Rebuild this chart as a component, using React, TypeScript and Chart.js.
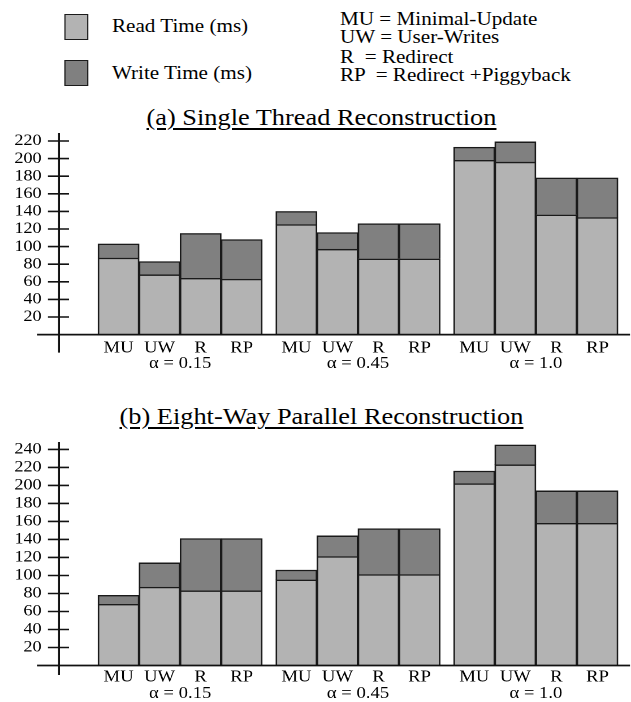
import React, { useEffect, useRef } from "react";
import { Chart, registerables } from "chart.js";

Chart.register(...registerables);

// ---------- data ----------
const methods = ["MU", "UW", "R", "RP"];
const alphaLabels = ["α = 0.15", "α = 0.45", "α = 1.0"];

const singleRead = [87, 68, 64, 63, 125, 97, 86, 86, 198, 196, 136, 133];
const singleWrite = [16, 15, 51, 45, 15, 19, 40, 40, 15, 23, 42, 45];

const parallelRead = [68, 87, 83, 83, 95, 121, 101, 101, 202, 223, 158, 158];
const parallelWrite = [10, 27, 58, 58, 11, 23, 51, 51, 14, 22, 36, 36];

const singleYTicks = [20, 40, 60, 80, 100, 120, 140, 160, 180, 200, 220];
const parallelYTicks = [20, 40, 60, 80, 100, 120, 140, 160, 180, 200, 220, 240];

const legendItems = ["Read Time (ms)", "Write Time (ms)"];
const abbreviations = [
  "MU = Minimal-Update",
  "UW = User-Writes",
  "R  = Redirect",
  "RP  = Redirect +Piggyback",
];
const titles = ["(a) Single Thread Reconstruction", "(b) Eight-Way Parallel Reconstruction"];

// ---------- layout helpers ----------
const STRETCH = 631 / 558;
const READ_COLOR = "#b3b3b3";
const WRITE_COLOR = "#808080";
const EDGE = "#1a1a1a";
const FONT = "'Liberation Serif', 'Times New Roman', serif";
const XFONT = 16.5;

// slot geometry: each bar is 3 units wide, 1 unit gap between groups
const barX = (i: number) => Math.floor(i / 4) * 13 + (i % 4) * 3 + 1.5;
const groupX = (g: number) => g * 13 + 6;
const X_MIN = -2.85;
const X_MAX = 38.88;

const crossAxes = {
  id: "crossAxes",
  afterDatasetsDraw(chart: any, _args: any, opts: any) {
    const { ctx, chartArea } = chart;
    const y = chart.scales.y;
    const x0 = chartArea.left;
    const base = y.getPixelForValue(0);
    ctx.save();
    ctx.strokeStyle = "#111";
    ctx.lineCap = "butt";
    ctx.lineWidth = 1.8;
    ctx.beginPath();
    ctx.moveTo(x0 - opts.xLeft, base);
    ctx.lineTo(chartArea.right, base);
    ctx.stroke();
    ctx.lineWidth = 1.6;
    ctx.beginPath();
    ctx.moveTo(x0, chartArea.top);
    ctx.lineTo(x0, base + opts.yExt);
    ctx.stroke();
    ctx.lineWidth = 1.6;
    for (const t of y.ticks) {
      const py = y.getPixelForValue(t.value);
      ctx.beginPath();
      ctx.moveTo(x0 - opts.tickLeft, py);
      ctx.lineTo(x0 + opts.tickRight, py);
      ctx.stroke();
    }
    ctx.restore();
  },
};

type Cfg = {
  read: number[];
  write: number[];
  yMax: number;
  yTicks: number[];
  padBottom: number;
  xPad: number;
  x2Pad: number;
  yExt: number;
};

function makeChart(canvas: HTMLCanvasElement, cfg: Cfg) {
  const barDs = (label: string, vals: number[], color: string) => ({
    label,
    data: vals.map((v, i) => ({ x: barX(i), y: v })),
    backgroundColor: color,
    borderColor: EDGE,
    borderWidth: 1.4,
    barPercentage: 1,
    categoryPercentage: 1,
  });
  return new Chart(canvas, {
    type: "bar",
    data: {
      datasets: [
        barDs(legendItems[0], cfg.read, READ_COLOR),
        barDs(legendItems[1], cfg.write, WRITE_COLOR),
      ] as any,
    },
    plugins: [crossAxes as any],
    options: {
      responsive: false,
      devicePixelRatio: 2,
      animation: false,
      layout: { padding: { top: 5, right: 0.9, bottom: cfg.padBottom, left: 0 } },
      plugins: {
        legend: { display: false },
        tooltip: { enabled: false },
        crossAxes: { xLeft: 19.5, yExt: cfg.yExt, tickLeft: 9.8, tickRight: 8.8 },
      } as any,
      scales: {
        x: {
          type: "linear",
          stacked: true,
          offset: false,
          min: X_MIN,
          max: X_MAX,
          weight: 0,
          grid: { display: false, drawTicks: false, offset: false },
          border: { display: false },
          ticks: {
            autoSkip: false,
            maxRotation: 0,
            padding: cfg.xPad,
            color: "#000",
            font: { size: XFONT, family: FONT },
            callback: (_v: any, i: number) => methods[i % 4],
          },
          afterBuildTicks: (s: any) => {
            s.ticks = cfg.read.map((_v, i) => ({ value: barX(i) }));
          },
          afterFit: (s: any) => {
            s.height = 18;
            s.paddingLeft = 0;
            s.paddingRight = 0;
          },
        },
        x2: {
          type: "linear",
          position: "bottom",
          offset: false,
          min: X_MIN,
          max: X_MAX,
          weight: 1,
          grid: { display: false, drawTicks: false, offset: false },
          border: { display: false },
          ticks: {
            autoSkip: false,
            maxRotation: 0,
            padding: cfg.x2Pad,
            color: "#000",
            font: { size: XFONT, family: FONT },
            callback: (_v: any, i: number) => alphaLabels[i],
          },
          afterBuildTicks: (s: any) => {
            s.ticks = alphaLabels.map((_l, g) => ({ value: groupX(g) }));
          },
          afterFit: (s: any) => {
            s.height = 18;
            s.paddingLeft = 0;
            s.paddingRight = 0;
          },
        },
        y: {
          stacked: true,
          min: 0,
          max: cfg.yMax,
          grid: { display: false, drawTicks: false },
          border: { display: false },
          ticks: {
            autoSkip: false,
            padding: 15.5,
            color: "#000",
            font: { size: 16, family: FONT },
          },
          afterBuildTicks: (s: any) => {
            s.ticks = cfg.yTicks.map((v) => ({ value: v }));
          },
          afterFit: (s: any) => {
            s.width = 52.2;
            s.paddingTop = 0;
            s.paddingBottom = 0;
          },
        },
      } as any,
    },
  });
}

function BarChart({ cfg, top, height }: { cfg: Cfg; top: number; height: number }) {
  const ref = useRef<HTMLCanvasElement | null>(null);
  useEffect(() => {
    if (!ref.current) return;
    const chart = makeChart(ref.current, cfg);
    return () => chart.destroy();
  }, []);
  return (
    <canvas
      ref={ref}
      width={558}
      height={height}
      style={{ position: "absolute", left: 0, top, width: 558, height, display: "block" }}
    />
  );
}

const textBase: React.CSSProperties = {
  position: "absolute",
  fontFamily: FONT,
  color: "#000",
  whiteSpace: "pre",
  margin: 0,
};

export default function App() {
  const abbrTops = [10.3, 27.6, 47.6, 66.0];
  return (
    <div
      style={{
        position: "absolute",
        left: 0,
        top: 0,
        width: 558,
        height: 702,
        overflow: "hidden",
        background: "#fff",
        transform: `scaleX(${STRETCH})`,
        transformOrigin: "0 0",
      }}
    >
      {/* legend */}
      {[READ_COLOR, WRITE_COLOR].map((c, i) => (
        <div
          key={"box" + i}
          style={{
            position: "absolute",
            left: 56.6,
            top: i === 0 ? 14 : 60,
            width: 21.2,
            height: 26,
            background: c,
            border: `1.5px solid ${EDGE}`,
            boxSizing: "border-box",
          }}
        />
      ))}
      {legendItems.map((t, i) => (
        <div
          key={"lg" + i}
          style={{ ...textBase, left: 99, top: i === 0 ? 16.5 : 63.5, fontSize: 18.7, lineHeight: "18.7px" }}
        >
          {t}
        </div>
      ))}
      {abbreviations.map((t, i) => (
        <div
          key={"ab" + i}
          style={{ ...textBase, left: 300.7, top: abbrTops[i], fontSize: 18.7, lineHeight: "18.7px" }}
        >
          {t}
        </div>
      ))}

      {/* titles */}
      {titles.map((t, i) => (
        <div
          key={"t" + i}
          style={{
            ...textBase,
            left: 34.3,
            width: 500,
            textAlign: "center",
            top: i === 0 ? 105.8 : 404.5,
            fontSize: 23.3,
            lineHeight: "23.3px",
            textDecoration: "underline",
            textDecorationThickness: "1.5px",
            textUnderlineOffset: "3px",
          }}
        >
          {t}
        </div>
      ))}

      <BarChart
        top={128}
        height={245}
        cfg={{
          read: singleRead,
          write: singleWrite,
          yMax: 229.1,
          yTicks: singleYTicks,
          padBottom: 2.4,
          xPad: 3.9,
          x2Pad: 0.94,
          yExt: 18,
        }}
      />
      <BarChart
        top={437}
        height={265}
        cfg={{
          read: parallelRead,
          write: parallelWrite,
          yMax: 248.3,
          yTicks: parallelYTicks,
          padBottom: 0.5,
          xPad: 1.9,
          x2Pad: 0.44,
          yExt: 9.5,
        }}
      />
    </div>
  );
}
